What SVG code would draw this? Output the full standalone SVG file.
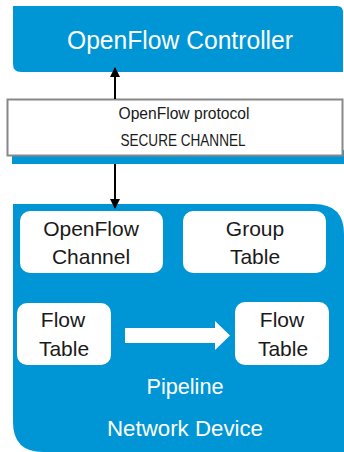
<svg xmlns="http://www.w3.org/2000/svg" width="344" height="452" viewBox="0 0 344 452">
<style>
.blue{fill:#0096d6}
.node{fill:#ffffff}
.dk{font-family:"Liberation Sans",Arial,sans-serif;fill:#1a1a1a;text-anchor:middle}
.wt{font-family:"Liberation Sans",Arial,sans-serif;fill:#ffffff;text-anchor:middle}
.n{font-size:21px}
.conn{stroke:#000;stroke-width:2;fill:none}
</style>
<defs>
<marker id="ah" viewBox="0 0 10 10" refX="9" refY="5" markerWidth="5" markerHeight="5" orient="auto" markerUnits="strokeWidth">
<path d="M0,0 L10,5 L0,10 z" fill="#000"/>
</marker>
</defs>
<rect width="344" height="452" fill="#ffffff"/>
<g id="controller">
<path class="blue" d="M13,6 H337 Q343,6 343,12 V72 H21 Q13,72 13,64 Z"/>
<text class="wt" x="180" y="49" font-size="25" textLength="226" lengthAdjust="spacingAndGlyphs">OpenFlow Controller</text>
</g>
<g id="secure-channel">
<rect class="blue" x="12" y="150" width="332" height="14"/>
<rect x="7.5" y="99.5" width="335" height="56" fill="#ffffff" stroke="#888888" stroke-width="2"/>
<text class="dk" x="184" y="119" font-size="16" textLength="131" lengthAdjust="spacingAndGlyphs">OpenFlow protocol</text>
<text class="dk" x="183" y="146" font-size="16.5" textLength="125" lengthAdjust="spacingAndGlyphs">SECURE CHANNEL</text>
</g>
<g id="network-device">
<path class="blue" d="M13,204 H314 Q344,204 344,234 V452 H43 Q13,452 13,422 Z"/>
<text class="wt" x="185" y="394" font-size="22" textLength="77" lengthAdjust="spacingAndGlyphs">Pipeline</text>
<text class="wt" x="185" y="436" font-size="22" textLength="156" lengthAdjust="spacingAndGlyphs">Network Device</text>
</g>
<g id="openflow-channel">
<rect class="node" x="20" y="211" width="143" height="62" rx="10"/>
<text class="dk n" x="91" y="236">OpenFlow</text>
<text class="dk n" x="91" y="264">Channel</text>
</g>
<g id="group-table">
<rect class="node" x="183" y="211" width="143" height="62" rx="10"/>
<text class="dk n" x="255" y="236">Group</text>
<text class="dk n" x="255" y="264">Table</text>
</g>
<g id="flow-table-1">
<rect class="node" x="17" y="303" width="94" height="62" rx="10"/>
<text class="dk n" x="63" y="327">Flow</text>
<text class="dk n" x="64" y="356">Table</text>
</g>
<g id="flow-table-2">
<rect class="node" x="235" y="302" width="94" height="63" rx="10"/>
<text class="dk n" x="282" y="327">Flow</text>
<text class="dk n" x="283" y="356">Table</text>
</g>
<g id="connectors">
<line class="conn" x1="115" y1="99" x2="115" y2="68" marker-end="url(#ah)"/>
<line class="conn" x1="115" y1="164" x2="115" y2="208" marker-end="url(#ah)"/>
<path d="M125,328 H215 V321 L230,335.5 L215,350 V343 H125 Z" fill="#ffffff"/>
</g>
</svg>
